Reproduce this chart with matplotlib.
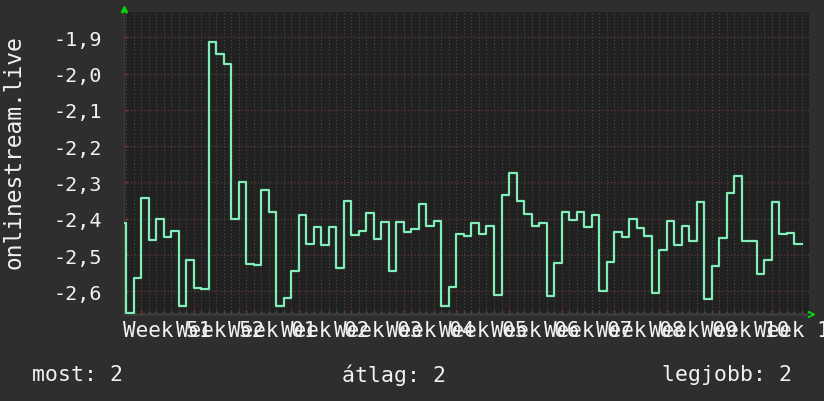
import numpy as np
import matplotlib
matplotlib.use("Agg")
from matplotlib import pyplot as plt
from matplotlib import transforms

# daily values, day -1 (partial) .. day 89
values = [
    -2.412, -2.66, -2.564, -2.343, -2.458, -2.401, -2.450, -2.434, -2.640, -2.513,
    -2.590, -2.593, -1.912, -1.945, -1.974, -2.401, -2.298, -2.525, -2.528, -2.320,
    -2.381, -2.640, -2.618, -2.543, -2.389, -2.469, -2.423, -2.472, -2.423, -2.537,
    -2.350, -2.444, -2.435, -2.385, -2.456, -2.410, -2.543, -2.408, -2.436, -2.428,
    -2.360, -2.419, -2.406, -2.640, -2.587, -2.442, -2.448, -2.411, -2.442, -2.420,
    -2.609, -2.334, -2.274, -2.351, -2.386, -2.419, -2.411, -2.612, -2.522, -2.381,
    -2.403, -2.381, -2.422, -2.389, -2.598, -2.518, -2.436, -2.450, -2.401, -2.425,
    -2.447, -2.604, -2.485, -2.406, -2.472, -2.419, -2.461, -2.353, -2.621, -2.529,
    -2.453, -2.329, -2.282, -2.461, -2.461, -2.552, -2.513, -2.353, -2.442, -2.439,
    -2.470,
]
week_labels = ["Week 51", "Week 52", "Week 01", "Week 02", "Week 03", "Week 04",
               "Week 05", "Week 06", "Week 07", "Week 08", "Week 09", "Week 10",
               "Week 11"]
y_ticks = [-2.6, -2.5, -2.4, -2.3, -2.2, -2.1, -2.0, -1.9]
legend = ["most: 2", "átlag: 2", "legjobb: 2"]

BG = "#2e2e2e"
PLOT_BG = "#212121"
LINE = "#80eeb6"
TXT = "#f2f2f2"
MONO = "DejaVu Sans Mono"

fig = plt.figure(figsize=(8.24, 4.02), dpi=100, facecolor=BG)
ax = fig.add_axes([124 / 824, 87 / 402, 685 / 824, 301.7 / 402])
ax.set_facecolor(PLOT_BG)

days = np.arange(-1, len(values) - 1)
x = np.append(days, days[-1] + 1)
y = np.append(values, values[-1])
ax.plot(x, y, drawstyle="steps-post", color=LINE, lw=1.6, zorder=3)

ax.set_xlim(-0.31, 90.98)
ax.set_ylim(-2.6625, -1.831)

# grid: daily minor, weekly major
ax.set_xticks(np.arange(2, 91, 7))
ax.set_xticks(np.arange(0, 91, 1), minor=True)
ax.set_yticks(y_ticks)
ax.set_yticklabels([("%.1f" % v).replace(".", ",") for v in y_ticks],
                   fontfamily=MONO, fontsize=14.5, color=TXT)
ax.set_xticklabels([])
ax.grid(which="minor", axis="x", color="#4a4a4a", lw=0.8, ls=(0, (1, 2)))
ax.grid(which="major", axis="both", color="#6e3c3c", lw=0.8, ls=(0, (1, 2)))
ax.set_axisbelow(True)

ax.tick_params(axis="x", which="major", direction="in", length=3, color="#8a3030", width=1)
ax.tick_params(axis="x", which="minor", direction="in", length=2, color="#555555", width=1)
ax.tick_params(axis="y", which="major", direction="in", length=3, color="#8a3030",
               width=1, pad=16)

for side in ["top", "right"]:
    ax.spines[side].set_visible(False)
ax.spines["bottom"].set_color("#3c3c3c")
ax.spines["bottom"].set_linewidth(2)
ax.spines["left"].set_color("#3c3c3c")
ax.spines["left"].set_linewidth(1)

# arrows at axis ends
ax.plot([0], [1.01], marker="^", color="#00dd00", ms=4, transform=ax.transAxes, clip_on=False)
ax.plot([1.003], [0], marker=">", color="#00dd00", ms=4, transform=ax.transAxes, clip_on=False)

# week labels centred in each week
trans = transforms.blended_transform_factory(ax.transData, ax.transAxes)
for i, lab in enumerate(week_labels):
    ax.text(5.5 + 7 * i, -0.052, lab, transform=trans, ha="center", va="center",
            fontfamily=MONO, fontsize=15, color=TXT, clip_on=False)

fig.text(14 / 824, 1 - 152 / 402, "onlinestream.live", rotation=90, ha="center",
         va="center", fontfamily=MONO, fontsize=16.5, color=TXT)

fig.text(32 / 824, 1 - 375 / 402, legend[0], ha="left", va="center",
         fontfamily=MONO, fontsize=15.5, color=TXT)
fig.text(342 / 824, 1 - 375 / 402, legend[1], ha="left", va="center",
         fontfamily=MONO, fontsize=15.5, color=TXT)
fig.text(792 / 824, 1 - 375 / 402, legend[2], ha="right", va="center",
         fontfamily=MONO, fontsize=15.5, color=TXT)

fig.savefig("out.png", dpi=100, facecolor=BG)
